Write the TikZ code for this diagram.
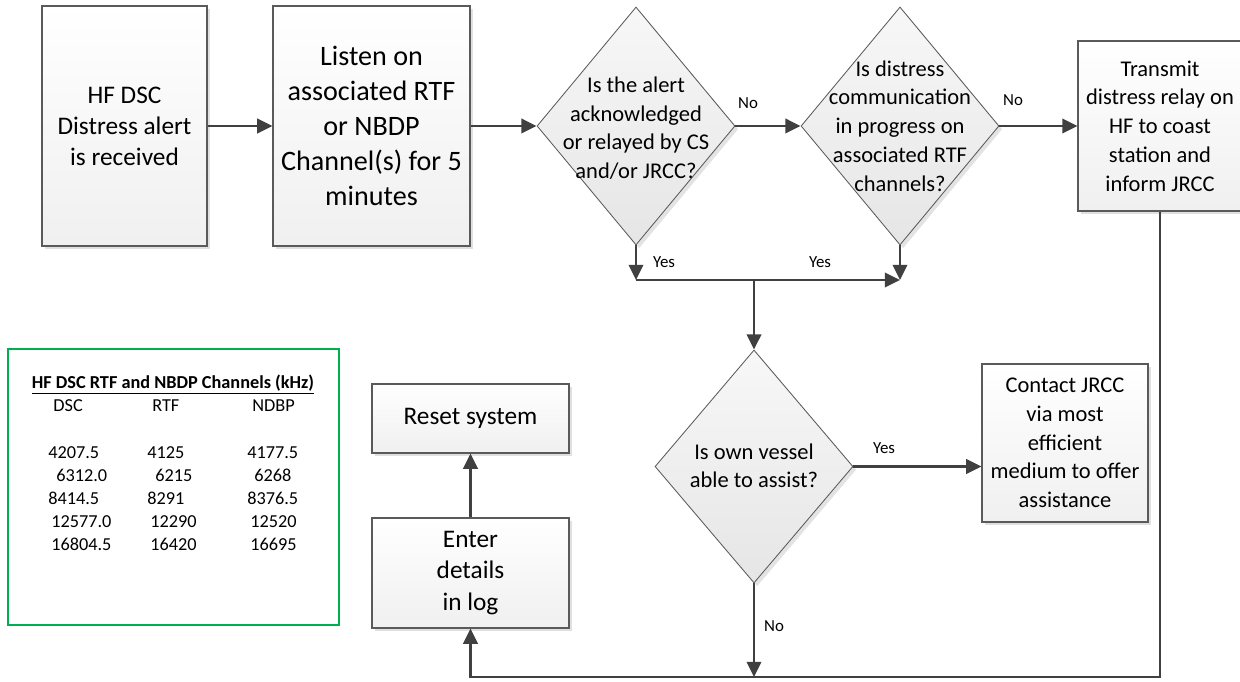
\documentclass[tikz,border=0pt]{standalone}
\usepackage{fontspec}
\setmainfont{Carlito}
\usetikzlibrary{shapes.geometric,arrows.meta,shadows}
\definecolor{linegray}{HTML}{404040}
\definecolor{edgegray}{HTML}{5A5A5A}
\definecolor{tabgreen}{HTML}{00B050}
\tikzset{
  procbox/.style={rectangle, draw=edgegray, line width=0.8pt, top color=white, bottom color=black!6,
    drop shadow={shadow xshift=0.08cm, shadow yshift=-0.08cm, fill=black!12, opacity=1},
    inner sep=0pt, align=center},
  decision/.style={diamond, draw=edgegray, line width=0.6pt, top color=black!3, bottom color=black!10,
    drop shadow={shadow xshift=0.08cm, shadow yshift=-0.08cm, fill=black!11, opacity=1},
    inner sep=0pt, minimum width=4.95cm},
  qtext/.style={align=center, inner sep=0pt, font=\fontsize{16}{20.5}\selectfont},
  flowline/.style={draw=linegray, line width=1.8pt},
  arrowline/.style={flowline, -{Triangle[length=0.38cm,width=0.36cm]}},
  yesno/.style={font=\fontsize{12}{14}\selectfont, inner sep=0pt},
  chantab/.style={draw=tabgreen, line width=1.4pt},
  tabtext/.style={font=\fontsize{13}{16}\selectfont, inner sep=0pt, anchor=base west},
}

\begin{document}
\begin{tikzpicture}
\useasboundingbox (0,0) rectangle (31,17.025);
% top row
\node[procbox, minimum width=4.125cm, minimum height=6cm, font=\fontsize{18}{22}\selectfont] (alert) at (3.1125,13.875) {HF DSC\\Distress alert\\is received};
\node[procbox, minimum width=4.925cm, minimum height=6cm, font=\fontsize{20}{24.8}\selectfont] (listen) at (9.2875,13.875) {Listen on\\associated RTF\\or NBDP\\Channel(s) for 5\\minutes};
\node[decision, minimum height=5.95cm] (ack) at (15.9,13.875) {};
\node[qtext] (acktext) at (15.9,13.82) {Is the alert\\acknowledged\\or relayed by CS\\and/or JRCC?};
\node[decision, minimum height=5.95cm] (comm) at (22.5,13.875) {};
\node[qtext] (commtext) at (22.5,13.875) {Is distress\\communication\\in progress on\\associated RTF\\channels?};
\node[procbox, minimum width=4.1cm, minimum height=4.25cm, font=\fontsize{16}{20.5}\selectfont] (relay) at (29.0,13.875) {Transmit\\distress relay on\\HF to coast\\station and\\inform JRCC};
% lower part
\node[decision, minimum height=5.825cm] (assist) at (18.85,5.3625) {};
\node[qtext] (assisttext) at (18.85,5.38) {Is own vessel\\able to assist?};
\node[procbox, minimum width=4.15cm, minimum height=3.95cm, font=\fontsize{16}{20.4}\selectfont] (contact) at (26.625,5.95) {Contact JRCC\\via most\\efficient\\medium to offer\\assistance};
\node[procbox, minimum width=4.925cm, minimum height=1.725cm, font=\fontsize{18}{22}\selectfont] (reset) at (11.7625,6.5625) {Reset system};
\node[procbox, minimum width=4.925cm, minimum height=2.75cm, font=\fontsize{18}{22.5}\selectfont] (enter) at (11.7625,2.7) {Enter\\details\\in log};
\coordinate (yesjoin) at (18.85,10.025);
\coordinate (bottom) at (18.85,0.1);
% connectors
\draw[arrowline] (alert) -- (listen);
\draw[arrowline] (listen) -- (ack);
\draw[arrowline] (ack) -- (comm);
\draw[arrowline] (comm) -- (relay);
\draw[arrowline] (ack.south) -- (ack.south |- yesjoin);
\draw[arrowline] (comm.south) -- (comm.south |- yesjoin);
\draw[arrowline] (ack.south |- yesjoin) -- (comm.south |- yesjoin);
\draw[arrowline] (yesjoin) -- (assist.north);
\draw[arrowline] (assist.east) -- (assist.east -| contact.west);
\draw[arrowline] (assist.south) -- (bottom);
\draw[arrowline] (relay.south) |- (enter.south |- bottom) -- (enter.south);
\draw[arrowline] (enter) -- (reset);
% branch labels
\node[yesno] (no1) at (18.7,14.45) {No};
\node[yesno] (no2) at (25.325,14.525) {No};
\node[yesno] (yes1) at (16.6,10.475) {Yes};
\node[yesno] (yes2) at (20.5,10.475) {Yes};
\node[yesno] (yes3) at (22.1,5.825) {Yes};
\node[yesno] (no3) at (19.35,1.375) {No};
% channel table
\draw[chantab] (0.2,1.4) rectangle (8.475,8.3);
\node[font=\fontsize{13}{16}\selectfont\bfseries, inner sep=0pt, anchor=base] (tabhead) at (4.325,7.3) {\underline{HF DSC RTF and NBDP Channels (kHz)}};
\node[tabtext] (hdsc) at (1.33,6.73) {DSC};
\node[tabtext] (hrtf) at (3.8,6.73) {RTF};
\node[tabtext] (hnbdp) at (6.3,6.73) {NDBP};
\node[tabtext] (dsc1) at (1.2,5.5675) {4207.5};
\node[tabtext] (rtf1) at (3.675,5.5675) {4125};
\node[tabtext] (nbdp1) at (6.175,5.5675) {4177.5};
\node[tabtext] (dsc2) at (1.4,4.99) {6312.0};
\node[tabtext] (rtf2) at (3.875,4.99) {6215};
\node[tabtext] (nbdp2) at (6.35,4.99) {6268};
\node[tabtext] (dsc3) at (1.2,4.41) {8414.5};
\node[tabtext] (rtf3) at (3.675,4.41) {8291};
\node[tabtext] (nbdp3) at (6.175,4.41) {8376.5};
\node[tabtext] (dsc4) at (1.275,3.835) {12577.0};
\node[tabtext] (rtf4) at (3.75,3.835) {12290};
\node[tabtext] (nbdp4) at (6.25,3.835) {12520};
\node[tabtext] (dsc5) at (1.275,3.26) {16804.5};
\node[tabtext] (rtf5) at (3.75,3.26) {16420};
\node[tabtext] (nbdp5) at (6.25,3.26) {16695};
\end{tikzpicture}
\end{document}
